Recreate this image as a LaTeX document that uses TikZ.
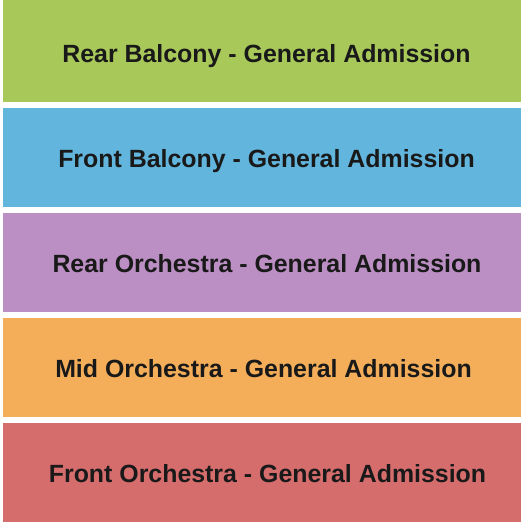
\documentclass[tikz,border=0pt]{standalone}
\usepackage{fontspec}
\setmainfont{Liberation Sans}
\usetikzlibrary{positioning}

\definecolor{rearbalc}{HTML}{A8C85A}
\definecolor{frontbalc}{HTML}{62B5DC}
\definecolor{rearorch}{HTML}{BB8FC3}
\definecolor{midorch}{HTML}{F4AE5A}
\definecolor{frontorch}{HTML}{D66D6D}

\begin{document}
\begin{tikzpicture}[x=1pt, y=1pt]
    % --- Style Definitions ---
    \tikzset{
        section style/.style={
            draw=none,
            rectangle,
            inner sep=0pt,
            minimum width=\secwidth pt,
            minimum height=\secheight pt,
            anchor=north west
        },
        section text/.style={
            font=\fontsize{24.9}{29}\selectfont\bfseries,
            text=black!90,
            inner sep=0pt,
            anchor=base
        }
    }

    % Section dimensions (pixels of the plan)
    \def\secwidth{518}
    \def\secheight{99}

    % --- 0. Fix the frame of the plan ---
    \useasboundingbox (0,0) rectangle (525,-525);

    % --- 1. The five sections, stacked ---
    \fill[rearbalc] (3,0) rectangle (521,-3);
    \node[section style, fill=rearbalc] (rearbalcony) at (3,-3) {};
    \node[section style, fill=frontbalc] (frontbalcony) at (3,-108) {};
    \node[section style, fill=rearorch] (rearorchestra) at (3,-213) {};
    \node[section style, fill=midorch] (midorchestra) at (3,-318) {};
    \node[section style, fill=frontorch] (frontorchestra) at (3,-423) {};

    % --- 2. Section names (on their baselines) ---
    \node[section text] (rearbalconytext) at (266.5,-62)
        {Rear Balcony - General Admission};
    \node[section text] (frontbalconytext) at (266.5,-167)
        {Front Balcony - General Admission};
    \node[section text] (rearorchestratext) at (267,-272)
        {Rear Orchestra - General Admission};
    \node[section text] (midorchestratext) at (263.5,-377)
        {Mid Orchestra - General Admission};
    \node[section text] (frontorchestratext) at (267.5,-482)
        {Front Orchestra - General Admission};

\end{tikzpicture}
\end{document}
